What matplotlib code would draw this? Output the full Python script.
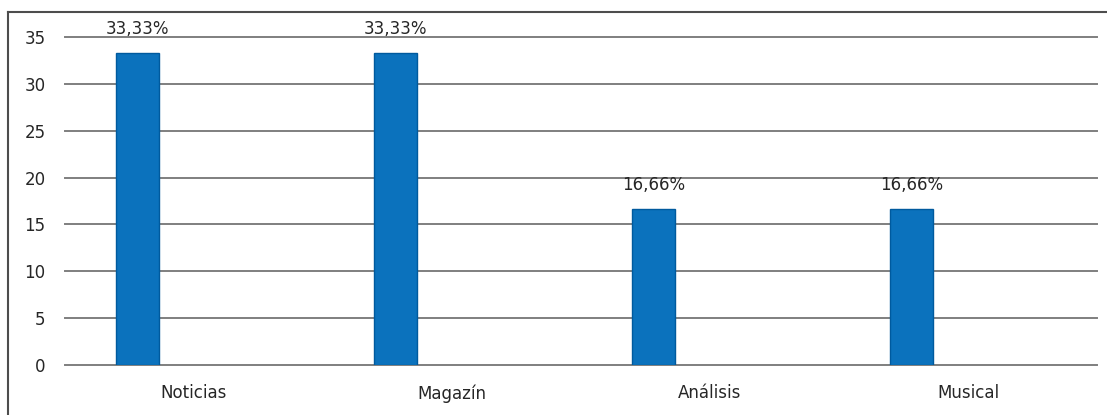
import numpy as np
import matplotlib
matplotlib.use('Agg')
import matplotlib.pyplot as plt
from matplotlib.lines import Line2D

categories = ['Noticias', 'Magazín', 'Análisis', 'Musical']
values = [33.33, 33.33, 16.66, 16.66]
bar_labels = ['33,33%', '33,33%', '16,66%', '16,66%']
yticks = [0, 5, 10, 15, 20, 25, 30, 35]

W, H = 1107, 415
fig = plt.figure(figsize=(W / 100, H / 100), dpi=100, facecolor='white')
ax = fig.add_axes([65 / W, 1 - 365 / H, 1032 / W, 328 / H])

x = np.arange(len(categories))
# bars sit left of the category centre (second series is empty)
ax.bar(x - 0.22, values, width=0.167, color='#0B72BD', edgecolor='#005A9E',
       linewidth=1.0, zorder=3)

for xi, v, lab in zip(x, values, bar_labels):
    ax.annotate(lab, (xi - 0.22, v), xytext=(0, 10.5), textcoords='offset points',
                ha='center', va='bottom', fontsize=12, color='#262626', zorder=4)

ax.set_xlim(-0.5, len(categories) - 0.5)
ax.set_ylim(0, 35)
ax.set_yticks(yticks)
ax.set_xticks(x)
ax.set_xticklabels(categories)
ax.yaxis.grid(True, color='#7f7f7f', linewidth=1.4, zorder=0)
for gl in ax.get_ygridlines():
    gl.set_clip_on(False)
ax.tick_params(axis='y', length=0, pad=14, labelsize=12, labelcolor='#262626')
ax.tick_params(axis='x', length=0, pad=14, labelsize=12, labelcolor='#262626')
for s in ax.spines.values():
    s.set_visible(False)

# outer frame: left and top edges only
fig.add_artist(Line2D([8 / W, 8 / W], [0, 1 - 12 / H], transform=fig.transFigure,
                      color='#4d4d4d', linewidth=1.5))
fig.add_artist(Line2D([8 / W, 1], [1 - 12 / H, 1 - 12 / H], transform=fig.transFigure,
                      color='#4d4d4d', linewidth=1.5))

fig.savefig('out.png', dpi=100, facecolor='white')
